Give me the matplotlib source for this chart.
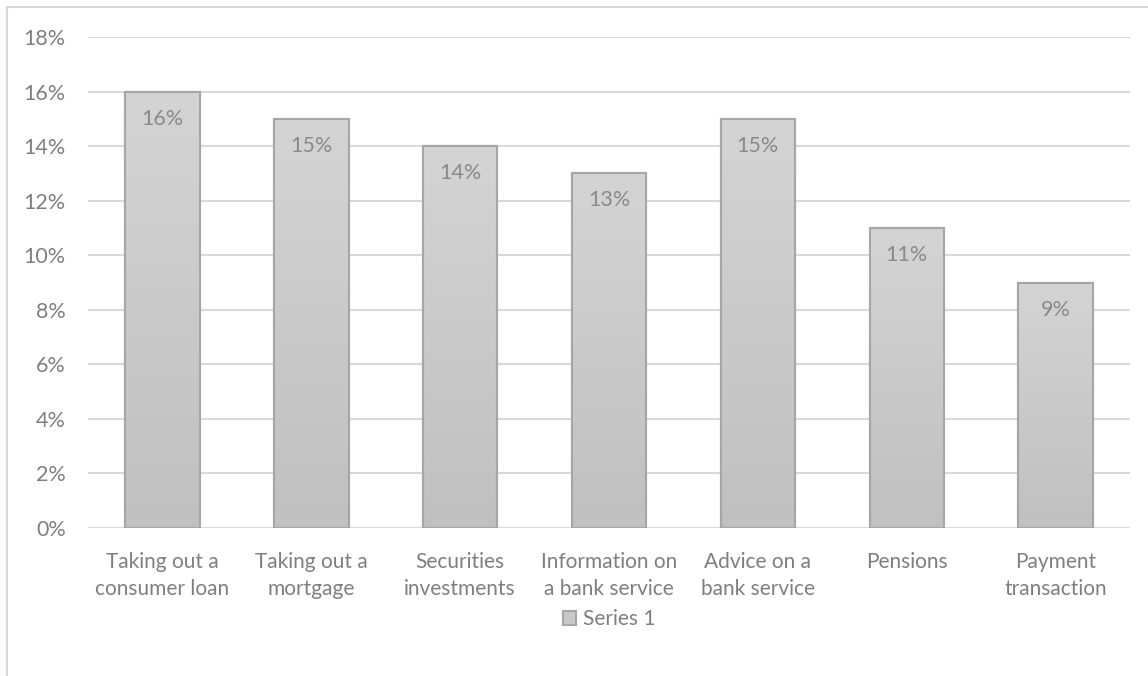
import numpy as np
import matplotlib.pyplot as plt
from matplotlib.patches import Rectangle
from matplotlib.ticker import FuncFormatter

categories = ["Taking out a\nconsumer loan", "Taking out a\nmortgage", "Securities\ninvestments",
              "Information on\na bank service", "Advice on a\nbank service", "Pensions",
              "Payment\ntransaction"]
values = [16, 15, 14, 13, 15, 11, 9]
series_name = "Series 1"

plt.rcParams['font.family'] = ['Lato', 'DejaVu Sans']
text_col = "#7f7f7f"

fig = plt.figure(figsize=(11.48, 6.76), dpi=100)
ax = fig.add_axes([88 / 1148, 1 - 528 / 676, (1130 - 88) / 1148, (528 - 37) / 676])

x = np.arange(len(values))
bars = ax.bar(x, values, width=0.5, color="#c8c8c8", edgecolor="#a6a6a6", linewidth=1.5,
              label=series_name, zorder=2)

# vertical gradient inside each bar (light top, darker bottom)
grad = np.linspace(0, 1, 256).reshape(-1, 1)
cmap = plt.matplotlib.colors.LinearSegmentedColormap.from_list("g", ["#c0c0c0", "#d4d4d4"])
for b in bars:
    x0, w, h = b.get_x(), b.get_width(), b.get_height()
    im = ax.imshow(grad, extent=[x0, x0 + w, 0, h], origin="lower", aspect="auto",
                   cmap=cmap, zorder=2.5)
    im.set_clip_path(b)
    ax.add_patch(Rectangle((x0, 0), w, h, fill=False, edgecolor="#a6a6a6", linewidth=1.5, zorder=3))

for xi, v in zip(x, values):
    ax.annotate(f"{v}%", (xi, v), xytext=(0, -27), textcoords="offset pixels",
                ha="center", va="center", fontsize=15.5, color="#8a8a8a", zorder=4)

ax.set_xlim(-0.5, len(values) - 0.5)
ax.set_ylim(0, 18)
ax.set_yticks(range(0, 19, 2))
ax.yaxis.set_major_formatter(FuncFormatter(lambda v, p: f"{int(v)}%"))
ax.set_xticks(x)
ax.set_xticklabels(categories, fontsize=15, color=text_col, linespacing=1.45)
ax.tick_params(axis="y", labelsize=15.5, labelcolor=text_col, length=0, pad=16)
ax.tick_params(axis="x", length=0, pad=17)
ax.grid(axis="y", color="#d9d9d9", linewidth=1.5, zorder=0)
ax.set_axisbelow(True)
for s in ax.spines.values():
    s.set_visible(False)
ax.axhline(0, color="#d9d9d9", linewidth=1.5, zorder=1)

leg = ax.legend(loc="center", bbox_to_anchor=(0.5, (528 - 619) / (528 - 37)), frameon=False,
                fontsize=15, handlelength=0.65, handleheight=0.65, handletextpad=0.3,
                labelcolor=text_col)

# outer chart border (top and left visible)
fig.patches.append(Rectangle((7 / 1148, -0.1), 1.2, 1 - 7 / 676 + 0.1, transform=fig.transFigure,
                             fill=False, edgecolor="#d9d9d9", linewidth=1.5))

fig.savefig("out.png", dpi=100)
